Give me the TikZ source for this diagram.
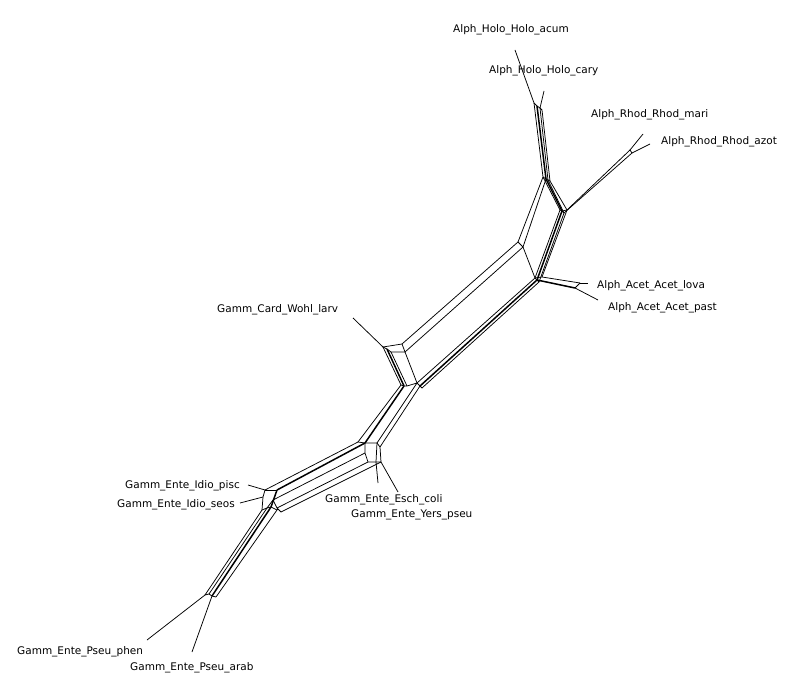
\documentclass[tikz,border=0pt]{standalone}
\usepackage{fontspec}
\setmainfont{DejaVu Sans}
\begin{document}
\begin{tikzpicture}[x=1pt,y=-1pt,
  edge/.style={line width=0.75pt,black},
  thick edge/.style={line width=1.5pt,black},
  taxon/.style={inner sep=0pt,anchor=west,font=\fontsize{10.5}{12}\selectfont}]
\useasboundingbox[fill=white] (0,0) rectangle (800,700);
% ---------- coordinates ----------
% Holo
\coordinate (h0) at (515,50);
\coordinate (h1) at (544,91);
\coordinate (hA) at (534,103);
\coordinate (hB) at (537,106);
\coordinate (hC) at (540,108);
\coordinate (hD) at (542,110);
\coordinate (tA) at (543,177);
\coordinate (tB) at (546,179);
\coordinate (tC) at (548,180);
\coordinate (tD) at (550,181);
% upper parallelogram
\coordinate (pL1) at (518,242);
\coordinate (pL2) at (523,247);
\coordinate (rA) at (560,210);
\coordinate (rB) at (562,211);
\coordinate (rC) at (564,213);
\coordinate (rD) at (567,210);
\coordinate (q1) at (630,150);
\coordinate (q2) at (632,153);
\coordinate (qm) at (643,134);
\coordinate (qa) at (650,144);
\coordinate (aA) at (535,278);
\coordinate (aB) at (537,280);
\coordinate (aC) at (539,282);
\coordinate (aD) at (542,277);
% Acet
\coordinate (ac1) at (580,283);
\coordinate (ac2) at (575,288);
\coordinate (acl) at (588,283);
\coordinate (acp) at (598,300);
% Card box
\coordinate (cw) at (353,318);
\coordinate (cA) at (383,347);
\coordinate (cA2) at (387,349);
\coordinate (cA3) at (391,352);
\coordinate (cB) at (402,344);
\coordinate (cC) at (405,352);
\coordinate (m1) at (401,385);
\coordinate (m2) at (404,386);
\coordinate (m3) at (407,386);
\coordinate (m4) at (417,383);
\coordinate (m5) at (420,386);
% centre
\coordinate (n1) at (358,442);
\coordinate (n2) at (365,443);
\coordinate (n3) at (377,443);
\coordinate (n4) at (380,447);
\coordinate (n5) at (365,453);
\coordinate (n6) at (368,462);
\coordinate (e0) at (376,462);
\coordinate (e1) at (381,462);
\coordinate (ec) at (378,483);
\coordinate (ey) at (398,492);
% Idio
\coordinate (i1) at (265,490);
\coordinate (i2) at (277,490);
\coordinate (i3) at (273,500);
\coordinate (i4) at (277,508);
\coordinate (i5) at (281,512);
\coordinate (i6) at (263,497);
\coordinate (ip) at (248,485);
\coordinate (is) at (240,503);
\coordinate (j1) at (262,510);
\coordinate (j2) at (267,508);
\coordinate (j3) at (271,507);
\coordinate (j4) at (277,510);
% Pseu
\coordinate (u1) at (205,595);
\coordinate (u2) at (209,594);
\coordinate (u3) at (212,596);
\coordinate (u4) at (216,597);
\coordinate (uph) at (147,640);
\coordinate (uar) at (192,652);
% ---------- edges ----------
% Holo bundle
\draw[edge] (h0) -- (hA);
\draw[edge] (h1) -- (hC);
\draw[edge] (hA) -- (hB) -- (hC) -- (hD);
\draw[edge] (hA) -- (tA);
\draw[thick edge] (hB) -- (tB);
\draw[edge] (hC) -- (tC);
\draw[edge] (hD) -- (tD);
\draw[edge] (tA) -- (tB) -- (tC) -- (tD);
% parallelogram
\draw[edge] (tA) -- (pL1);
\draw[edge] (tB) -- (pL2);
\draw[edge] (pL1) -- (pL2);
\draw[edge] (tA) -- (rA);
\draw[thick edge] (tB) -- (rB);
\draw[edge] (tC) -- (rC);
\draw[edge] (tD) -- (rD);
\draw[edge] (rA) -- (rB) -- (rC);
\draw[edge] (rB) -- (rD);
% Rhod
\draw[edge] (rD) -- (q1);
\draw[edge] (rC) -- (q2);
\draw[edge] (q1) -- (q2);
\draw[edge] (q1) -- (qm);
\draw[edge] (q2) -- (qa);
% down to Acet node
\draw[edge] (rA) -- (aA);
\draw[thick edge] (rB) -- (aB);
\draw[edge] (rC) -- (aC);
\draw[edge] (rD) -- (aD);
\draw[edge] (pL2) -- (aA);
\draw[edge] (aA) -- (aB) -- (aC);
\draw[edge] (aA) -- (aD);
% Acet
\draw[edge] (aD) -- (ac1);
\draw[thick edge] (aB) -- (ac2);
\draw[edge] (ac1) -- (ac2);
\draw[edge] (ac1) -- (acl);
\draw[edge] (ac2) -- (acp);
% upper long band
\draw[edge] (pL1) -- (cB);
\draw[edge] (pL2) -- (cC);
% lower long band
\draw[edge] (aA) -- (m4);
\draw[thick edge] (aB) -- (m5);
\draw[edge] (aC) -- ([shift={(2,2)}]m5);
% Card box
\draw[edge] (cw) -- (cA);
\draw[edge] (cA) -- (cB);
\draw[edge] (cA) -- (cA2) -- (cA3) -- (cC);
\draw[edge] (cB) -- (cC);
\draw[edge] (cA) -- (m1);
\draw[thick edge] (cA2) -- (m2);
\draw[edge] (cA3) -- (m3);
\draw[edge] (cC) -- (m4);
\draw[edge] (m1) -- (m2) -- (m3) -- (m4) -- (m5) -- ([shift={(2,2)}]m5);
% middle band
\draw[edge] (m1) -- (n1);
\draw[thick edge] (m2) -- (n2);
\draw[edge] (m4) -- (n3);
\draw[edge] (m5) -- (n4);
\draw[edge] (n1) -- (n2) -- (n3) -- (n4);
% Esch / Yers box
\draw[edge] (n2) -- (n5) -- (n6) -- (e0) -- (e1) -- (n4);
\draw[edge] (n3) -- (e0);
\draw[edge] (e0) -- (ec);
\draw[edge] (e1) -- (ey);
% lower band
\draw[edge] (n1) -- (i1);
\draw[thick edge] (n2) -- (i2);
\draw[edge] (n5) -- (i3);
\draw[edge] (n6) -- (i4);
\draw[edge] (e1) -- (i5);
% Idio box
\draw[edge] (ip) -- (i1);
\draw[edge] (is) -- (i6);
\draw[edge] (i1) -- (i2);
\draw[edge] (i1) -- (i6) -- (j1);
\draw[thick edge] (i2) -- (j3);
\draw[edge] (i3) -- (j2);
\draw[edge] (i3) -- (i4) -- (i5);
\draw[edge] (i4) -- (j4);
\draw[edge] (j1) -- (j2) -- (j3) -- (j4);
% Pseu band
\draw[edge] (j1) -- (u1);
\draw[edge] (j2) -- (u2);
\draw[thick edge] (j3) -- (u3);
\draw[edge] (j4) -- (u4);
\draw[edge] (u1) -- (u2) -- (u3) -- (u4);
\draw[edge] (u1) -- (uph);
\draw[edge] (u3) -- (uar);
% ---------- labels ----------
\node[taxon] (Lacum) at (453,30) {Alph\_Holo\_Holo\_acum};
\node[taxon] (Lcary) at (489,71) {Alph\_Holo\_Holo\_cary};
\node[taxon] (Lmari) at (591,115) {Alph\_Rhod\_Rhod\_mari};
\node[taxon] (Lazot) at (661,142) {Alph\_Rhod\_Rhod\_azot};
\node[taxon] (Llova) at (597,286) {Alph\_Acet\_Acet\_lova};
\node[taxon] (Lpast) at (608,308) {Alph\_Acet\_Acet\_past};
\node[taxon] (Lwohl) at (217,310) {Gamm\_Card\_Wohl\_larv};
\node[taxon] (Lpisc) at (125,486) {Gamm\_Ente\_Idio\_pisc};
\node[taxon] (Lseos) at (117,505) {Gamm\_Ente\_Idio\_seos};
\node[taxon] (Lesch) at (325,500) {Gamm\_Ente\_Esch\_coli};
\node[taxon] (Lyers) at (351,515) {Gamm\_Ente\_Yers\_pseu};
\node[taxon] (Lphen) at (17,652) {Gamm\_Ente\_Pseu\_phen};
\node[taxon] (Larab) at (130,668) {Gamm\_Ente\_Pseu\_arab};
\end{tikzpicture}
\end{document}
